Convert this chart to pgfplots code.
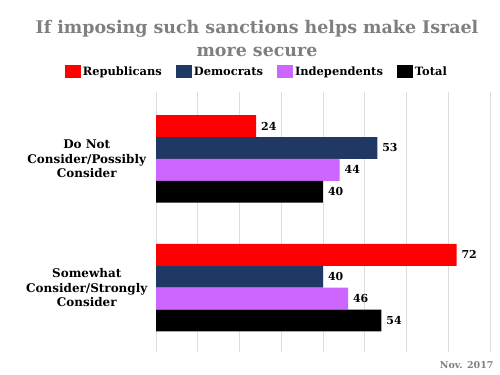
\documentclass[border=0pt]{standalone}
\usepackage{pgfplots}
\pgfplotsset{compat=1.18}
\usepackage{fontspec}
\setmainfont{DejaVu Serif}
\definecolor{rep}{HTML}{FF0000}
\definecolor{dem}{HTML}{203864}
\definecolor{ind}{HTML}{CC66FF}
\definecolor{titlegray}{HTML}{7F7F7F}
\definecolor{gridgray}{HTML}{DDDDDD}
\begin{document}
\begin{tikzpicture}
\useasboundingbox (0,0) rectangle (500bp,375bp);
\node[font=\bfseries\fontsize{17.5}{23}\selectfont, text=titlegray, align=center] at (257bp,336.5bp) {If imposing such sanctions helps make Israel\\more secure};
\node[font=\bfseries\fontsize{9.5}{11}\selectfont, text=titlegray, anchor=east] at (497bp,10bp) {Nov. 2017};
\begin{axis}[
  at={(156bp,23bp)}, anchor=south west, scale only axis,
  width=334bp, height=260bp,
  xbar=0pt, bar width=0.17,
  xmin=0, xmax=80, ymin=-0.52, ymax=1.5, y dir=reverse,
  xtick={0,10,...,80}, xticklabels={},
  xmajorgrids, grid style={gridgray, line width=0.6pt},
  ytick={0,1},
  yticklabels={{Do Not\\Consider/Possibly\\Consider},{Somewhat\\Consider/Strongly\\Consider}},
  yticklabel style={align=center, anchor=center, xshift=-65bp, font=\bfseries\fontsize{12}{14.5}\selectfont},
  axis line style={draw=none}, major tick style={draw=none},
  /pgf/number format/assume math mode=true,
  nodes near coords,
  nodes near coords style={font=\bfseries\fontsize{11}{13}\selectfont, text=black, anchor=west, xshift=1.5bp},
  legend columns=4,
  legend style={at={(0.302,1.077)}, anchor=center, draw=none, fill=none,
    font=\bfseries\fontsize{11.5}{13}\selectfont,
    /tikz/every even column/.append style={column sep=12bp}},
  legend image code/.code={\fill[#1] (0bp,-6.5bp) rectangle (16bp,7bp);},
]
\addplot[fill=rep, draw=none] coordinates {(24,0) (72,1)};
\addplot[fill=dem, draw=none] coordinates {(53,0) (40,1)};
\addplot[fill=ind, draw=none] coordinates {(44,0) (46,1)};
\addplot[fill=black, draw=none] coordinates {(40,0) (54,1)};
\legend{Republicans, Democrats, Independents, Total}
\end{axis}
\end{tikzpicture}
\end{document}
